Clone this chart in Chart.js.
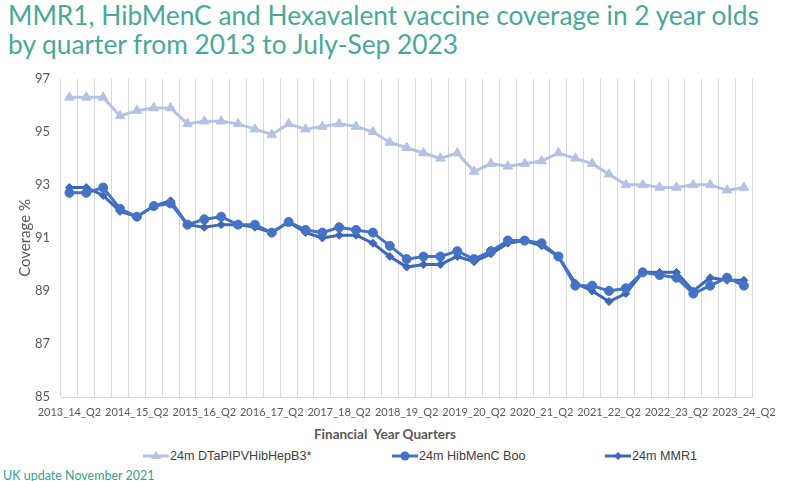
<!DOCTYPE html>
<html>
<head>
<meta charset="utf-8">
<script src="https://cdn.jsdelivr.net/npm/chart.js@4.4.0/dist/chart.umd.min.js"></script>
<style>
  body { margin:0; width:785px; height:481px; background:#fff; overflow:hidden; position:relative; font-family: Lato, "Liberation Sans", sans-serif; }
  #title { position:absolute; left:8px; top:1px; color:#4AA89A; font-size:26.3px; line-height:29px; font-family: Lato, sans-serif; white-space:nowrap; }
  #chart-wrap { position:absolute; left:0; top:60px; width:785px; height:365px; }
  #x-title { position:absolute; left:0; width:770px; top:426px; text-align:center; color:#595959; font-size:13.5px; font-weight:bold; font-family: Lato, sans-serif; }
  #legend { position:absolute; top:449px; left:0; width:785px; height:18px; }
  .lg-item { position:absolute; display:flex; align-items:center; font-family:"Liberation Sans", Arial, sans-serif; font-size:12.6px; color:#404040; }
  .lg-item svg { margin-right:1px; }
  #footer { position:absolute; left:3px; top:468px; color:#3AA08F; font-size:12.5px; font-family: Lato, sans-serif; }
</style>
</head>
<body>
<div id="title">MMR1, HibMenC and Hexavalent vaccine coverage in 2 year olds<br>by quarter from 2013 to July-Sep 2023</div>
<div id="chart-wrap"><canvas id="cov-chart"></canvas></div>
<div id="x-title">Financial&nbsp; Year Quarters</div>
<div id="legend"></div>
<div id="footer">UK update November 2021</div>
<script>
// quarters 2013_14_Q2 .. 2023_24_Q2
const years = ['2013_14', '2014_15', '2015_16', '2016_17', '2017_18', '2018_19',
    '2019_20', '2020_21', '2021_22', '2022_23', '2023_24'];
const quarters = [];
years.forEach((y, i) => {
    const qs = i === years.length - 1 ? ['Q2'] : ['Q2', 'Q3', 'Q4', 'Q1'];
    qs.forEach(q => quarters.push(`${y}_${q}`));
});

const dtapHexa = [96.3, 96.3, 96.3, 95.6, 95.8, 95.9, 95.9, 95.3, 95.4, 95.4,
    95.3, 95.1, 94.9, 95.3, 95.1, 95.2, 95.3, 95.2, 95.0, 94.6,
    94.4, 94.2, 94.0, 94.2, 93.5, 93.8, 93.7, 93.8, 93.9, 94.2,
    94.0, 93.8, 93.4, 93.0, 93.0, 92.9, 92.9, 93.0, 93.0, 92.8, 92.9];
const hibMenC = [92.7, 92.7, 92.9, 92.1, 91.8, 92.2, 92.3, 91.5, 91.7, 91.8,
    91.5, 91.5, 91.2, 91.6, 91.3, 91.2, 91.4, 91.3, 91.2, 90.7,
    90.2, 90.3, 90.3, 90.5, 90.2, 90.5, 90.9, 90.9, 90.8, 90.3,
    89.2, 89.2, 89.0, 89.1, 89.7, 89.6, 89.5, 88.9, 89.2, 89.5, 89.2];
const mmr1 = [92.9, 92.9, 92.6, 92.0, 91.8, 92.2, 92.4, 91.5, 91.4, 91.5,
    91.5, 91.4, 91.2, 91.6, 91.2, 91.0, 91.1, 91.1, 90.8, 90.3,
    89.9, 90.0, 90.0, 90.3, 90.1, 90.4, 90.8, 90.9, 90.7, 90.3,
    89.3, 89.0, 88.6, 88.9, 89.7, 89.7, 89.7, 89.0, 89.5, 89.4, 89.4];

const seriesNames = ['24m DTaPIPVHibHepB3*', '24m HibMenC Boo', '24m MMR1'];
const yTicks = [85, 87, 89, 91, 93, 95, 97];

const styles = [
    { color: '#B4C2E6', point: 'triangle', radius: 5.5 },
    { color: '#4472C4', point: 'circle', radius: 4.5 },
    { color: '#3F67B8', point: 'rectRot', radius: 4 },
];
const seriesData = [dtapHexa, hibMenC, mmr1];

const GRID = '#D9D9D9';
const TEXT = '#595959';

new Chart(document.getElementById('cov-chart'), {
    type: 'line',
    data: {
        labels: quarters,
        datasets: seriesData.map((d, i) => ({
            label: seriesNames[i],
            data: d,
            borderColor: styles[i].color,
            backgroundColor: styles[i].color,
            borderWidth: 3,
            pointStyle: styles[i].point,
            pointRadius: styles[i].radius,
            pointBorderWidth: 1,
            tension: 0,
        }))
    },
    options: {
        responsive: true, maintainAspectRatio: false, animation: false,
        layout: { padding: { left: 16, right: 26, top: 17, bottom: 0 } },
        plugins: { legend: { display: false }, tooltip: { enabled: false } },
        scales: {
            x: {
                offset: true,
                grid: { color: GRID, offset: true, drawTicks: false },
                border: { color: GRID },
                ticks: {
                    autoSkip: false, maxRotation: 0, padding: 9,
                    color: TEXT, font: { family: 'Lato', size: 11 },
                    callback: (v, i) => i % 4 === 0 ? quarters[i] : ''
                },
                afterFit: s => { s.height = 28; }
            },
            y: {
                min: 85, max: 97,
                afterBuildTicks: s => { s.ticks = yTicks.map(v => ({ value: v })); },
                grid: { display: false, drawTicks: false },
                border: { display: false },
                ticks: { padding: 11, color: TEXT, font: { family: 'Lato', size: 13 } },
                title: {
                    display: true, text: 'Coverage %', color: TEXT,
                    font: { family: 'Lato', size: 15 }, padding: { top: 0, bottom: 0 }
                },
                afterFit: s => { s.width = 45; }
            }
        }
    }
});

// legend: line + marker, like the spreadsheet legend
const legendLeft = [143, 392, 605];
const legend = document.getElementById('legend');
seriesNames.forEach((name, i) => {
    const st = styles[i];
    let marker = '';
    if (st.point === 'triangle') marker = `<polygon points="13,1 18,9 8,9" fill="${st.color}"/>`;
    else if (st.point === 'circle') marker = `<circle cx="13" cy="6" r="4.5" fill="${st.color}"/>`;
    else marker = `<polygon points="13,2 17,6 13,10 9,6" fill="${st.color}"/>`;
    const item = document.createElement('div');
    item.className = 'lg-item';
    item.style.left = legendLeft[i] + 'px';
    item.innerHTML = `<svg width="26" height="12"><line x1="0" y1="6" x2="26" y2="6" stroke="${st.color}" stroke-width="3"/>${marker}</svg><span>${name}</span>`;
    legend.appendChild(item);
});
</script>
</body>
</html>
